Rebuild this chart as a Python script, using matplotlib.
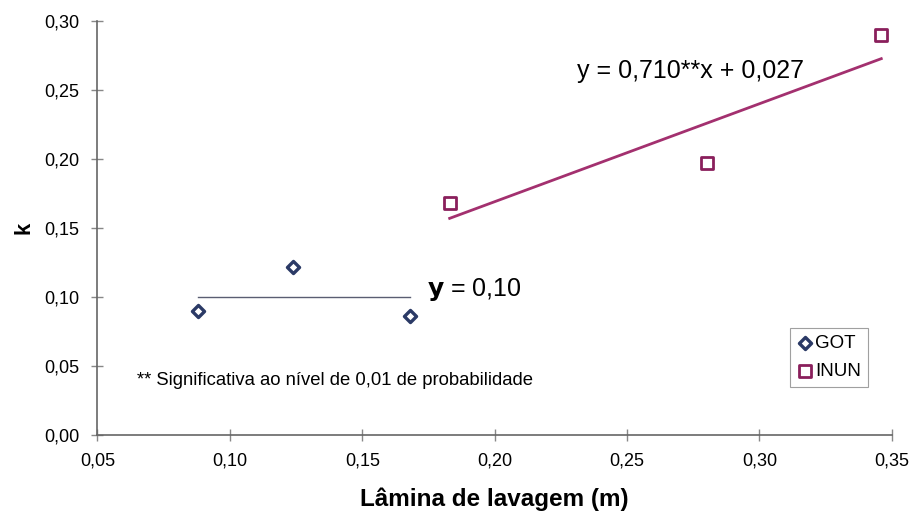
import numpy as np
import matplotlib.pyplot as plt
from matplotlib.ticker import FuncFormatter

plt.rcParams['font.family'] = ['Liberation Sans', 'DejaVu Sans']

# Dados
got_x = [0.088, 0.124, 0.168]
got_k = [0.090, 0.122, 0.086]
inun_x = [0.183, 0.280, 0.346]
inun_k = [0.168, 0.197, 0.290]

# Equações ajustadas
got_media = 0.10
inun_a, inun_b = 0.710, 0.027

fig = plt.figure(figsize=(9.11, 5.11), dpi=100)
ax = fig.add_axes([0.107, 0.149, 0.872, 0.810])

# Linhas de ajuste
ax.plot([min(got_x), max(got_x)], [got_media, got_media], color="#5a5e72", linewidth=1.0)
xf = np.array([min(inun_x), max(inun_x)])
ax.plot(xf, inun_a * xf + inun_b, color="#a3306f", linewidth=2.0)

# Pontos
ax.scatter(got_x, got_k, marker="D", s=38, facecolor="white", edgecolor="#2b3a66",
           linewidth=2.4, label="GOT", zorder=3)
ax.scatter(inun_x, inun_k, marker="s", s=70, facecolor="white", edgecolor="#8a1f5c",
           linewidth=2.0, label="INUN", zorder=3)

ax.set_xlim(0.05, 0.35)
ax.set_ylim(0.0, 0.30)
ax.set_xticks(np.arange(0.05, 0.351, 0.05))
ax.set_yticks(np.arange(0.0, 0.301, 0.05))
fmt = FuncFormatter(lambda v, p: f"{v:.2f}".replace(".", ","))
ax.xaxis.set_major_formatter(fmt)
ax.yaxis.set_major_formatter(fmt)

for s in ["top", "right"]:
    ax.spines[s].set_visible(False)
for s in ["left", "bottom"]:
    ax.spines[s].set_color("#666666")
    ax.spines[s].set_linewidth(1.2)
ax.tick_params(direction="inout", length=8, width=1.0, color="#888888",
               labelsize=13, pad=9)
ax.tick_params(axis="y", pad=9)

ax.set_xlabel("Lâmina de lavagem (m)", fontsize=17.5, fontweight="bold", labelpad=13)
ax.set_ylabel("k", fontsize=16, fontweight="bold", labelpad=7)

# Anotações
ax.text(0.231, 0.2635, "y = 0,710**x + 0,027", fontsize=18, ha="left", va="center")
ax.text(0.1745, 0.1055, r"$\mathbf{y}$ = 0,10", fontsize=18, ha="left", va="center")
ax.text(0.065, 0.0395, "** Significativa ao nível de 0,01 de probabilidade",
        fontsize=13.3, ha="left", va="center")

leg = ax.legend(loc="upper left", bbox_to_anchor=(0.8716, 0.258), fontsize=13.5,
                frameon=True, fancybox=False, handletextpad=0.1, borderpad=0.35,
                labelspacing=0.6, handlelength=0.9, borderaxespad=0.0)
leg.get_frame().set_edgecolor("#888888")
leg.get_frame().set_linewidth(0.8)

plt.savefig("out.png", dpi=100)
